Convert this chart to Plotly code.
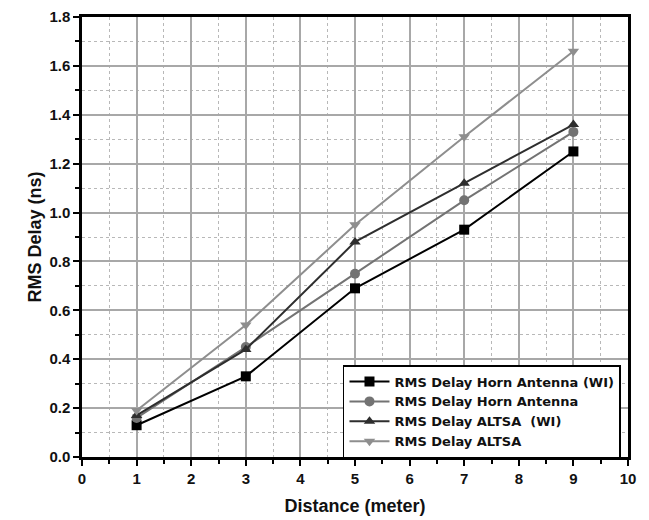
import plotly.graph_objects as go

distance = [1, 3, 5, 7, 9]
horn_wi = [0.13, 0.33, 0.69, 0.93, 1.25]
horn = [0.16, 0.45, 0.75, 1.05, 1.33]
altsa_wi = [0.17, 0.44, 0.88, 1.12, 1.36]
altsa = [0.19, 0.54, 0.95, 1.31, 1.66]

names = ["RMS Delay Horn Antenna (WI)", "RMS Delay Horn Antenna",
         "RMS Delay ALTSA  (WI)", "RMS Delay ALTSA"]
series = [horn_wi, horn, altsa_wi, altsa]
colors = ["#000000", "#737373", "#2e2e2e", "#8e8e8e"]
symbols = ["square", "circle", "triangle-up", "triangle-down"]

fig = go.Figure()
for n, s, c, sym in zip(names, series, colors, symbols):
    fig.add_trace(go.Scatter(
        x=distance, y=s, name=n, mode="lines+markers",
        line=dict(color=c, width=2),
        marker=dict(symbol=sym, size=10, color=c),
    ))

font = "Liberation Sans, Arial, sans-serif"
# page has an 8px body margin, so the figure is sized 641x512 to fill the 649x520 window
fig.update_layout(
    width=641, height=512,
    margin=dict(l=74, r=21, t=9, b=63),
    paper_bgcolor="white", plot_bgcolor="white",
    font=dict(family=font, color="#111", size=15, weight="bold"),
    legend=dict(x=0.478, y=0.209, xanchor="left", yanchor="top",
                bgcolor="white", bordercolor="#000", borderwidth=1.5,
                font=dict(size=13, family="DejaVu Sans, sans-serif", weight="bold", color="#111"),
                tracegroupgap=0, itemwidth=40),
    showlegend=True,
)
fig.update_xaxes(
    range=[0, 10], dtick=1, tick0=0, automargin=False,
    showline=True, linecolor="#000", linewidth=2.5, mirror=True,
    ticks="outside", ticklen=6, tickwidth=2, tickcolor="#000",
    showgrid=True, gridcolor="#a8a8a8", gridwidth=1.5,
    zeroline=False,
    minor=dict(dtick=0.5, ticks="outside", ticklen=4, tickwidth=2, tickcolor="#000",
               showgrid=True, gridcolor="#b8b8b8", griddash="dot", gridwidth=1),
    title=dict(text="Distance (meter)", font=dict(size=18, weight="bold"), standoff=14),
    tickfont=dict(size=15, weight="bold"),
)
fig.update_yaxes(
    range=[0, 1.8], dtick=0.2, tick0=0, tickformat=".1f", automargin=False,
    showline=True, linecolor="#000", linewidth=2.5, mirror=True,
    ticks="outside", ticklen=6, tickwidth=2, tickcolor="#000",
    showgrid=True, gridcolor="#a8a8a8", gridwidth=1.5,
    zeroline=False,
    minor=dict(dtick=0.1, ticks="outside", ticklen=4, tickwidth=2, tickcolor="#000",
               showgrid=True, gridcolor="#b8b8b8", griddash="dot", gridwidth=1),
    title=dict(text="RMS Delay (ns)", font=dict(size=18, weight="bold"), standoff=4),
    tickfont=dict(size=15, weight="bold"),
)
fig.write_html("out.html")
